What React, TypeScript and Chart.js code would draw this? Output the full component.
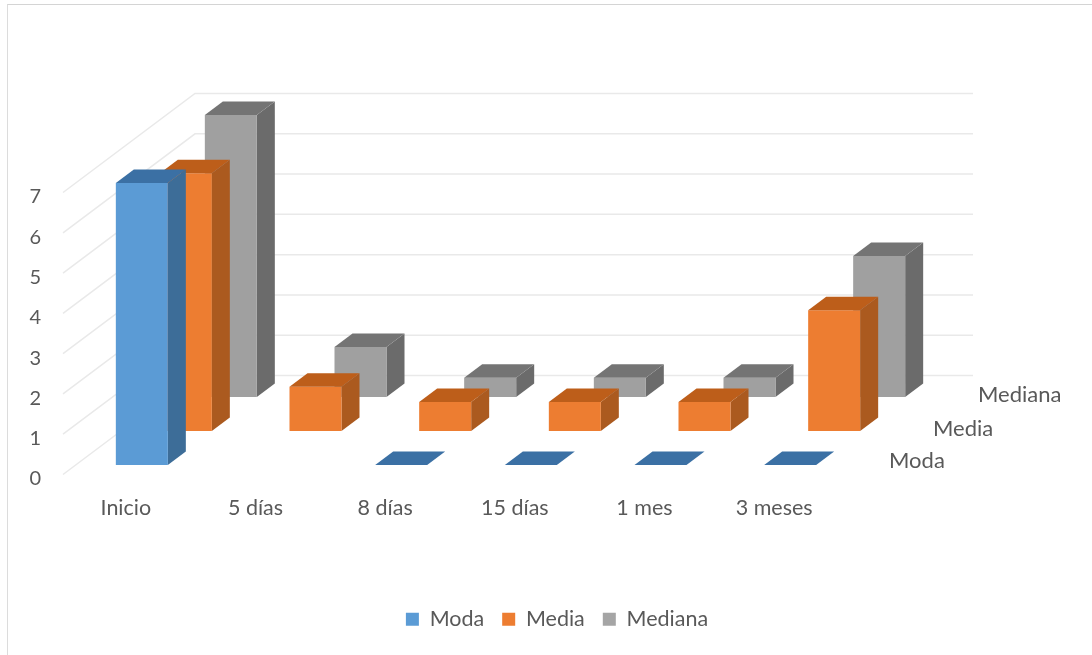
import React, { useEffect, useRef } from "react";
import { Chart, registerables } from "chart.js";

Chart.register(...registerables);

const categories = ["Inicio", "5 días", "8 días", "15 días", "1 mes", "3 meses"];
const moda = [7, null, 0, 0, 0, 0];
const media = [6.4, 1.1, 0.72, 0.72, 0.72, 3];
const mediana = [7, 1.24, 0.48, 0.48, 0.48, 3.5];

const FONT = "Lato";
const TEXT = "#595959";
const WALL = "#e9e9e9";

// Shift of each series along the depth axis, plus the colours of a box's faces.
const faces = [
  { dx: 16, dy: -14, front: "#5b9bd5", side: "#3d6d98", top: "#3b70a4", nameX: 889, nameY: 461 },
  { dx: 60, dy: -48, front: "#ed7d31", side: "#ab5a1f", top: "#bd5e1a", nameX: 933, nameY: 429 },
  { dx: 105, dy: -82, front: "#a0a0a0", side: "#6b6b6b", top: "#747474", nameX: 978, nameY: 395 },
];
const BOX_DX = 18;
const BOX_DY = -13.5;

function poly(ctx: CanvasRenderingContext2D, color: string, pts: number[][]) {
  ctx.fillStyle = color;
  ctx.beginPath();
  pts.forEach(([x, y], i) => (i ? ctx.lineTo(x, y) : ctx.moveTo(x, y)));
  ctx.closePath();
  ctx.fill();
}

const columns3d = {
  id: "columns3d",
  // Side wall and back wall gridlines, taken from the value axis ticks.
  beforeDatasetsDraw(chart: any) {
    const { ctx, scales } = chart;
    const y = scales.y;
    ctx.save();
    ctx.strokeStyle = WALL;
    ctx.lineWidth = 1.5;
    y.ticks.forEach((t: any) => {
      const py = y.getPixelForValue(t.value) - 4.5;
      ctx.beginPath();
      ctx.moveTo(63, py);
      ctx.lineTo(195, py - 99);
      ctx.lineTo(973, py - 99);
      ctx.stroke();
    });
    ctx.restore();

    ctx.save();
    ctx.fillStyle = TEXT;
    ctx.font = `22px ${FONT}`;
    ctx.textBaseline = "middle";
    chart.data.datasets.forEach((d: any, i: number) => {
      ctx.fillText(d.label, faces[i].nameX, faces[i].nameY);
    });
    ctx.restore();
  },
  // Each bar element is redrawn as a box with front, side and top faces.
  beforeDatasetDraw(chart: any, args: any) {
    const { ctx } = chart;
    const f = faces[args.index];
    const values = chart.data.datasets[args.index].data;
    args.meta.data.forEach((bar: any, i: number) => {
      if (values[i] == null) return;
      const l = bar.x - bar.width / 2 + f.dx;
      const r = bar.x + bar.width / 2 + f.dx;
      const t = bar.y + f.dy;
      const b = bar.base + f.dy;
      if (b - t > 0.5) {
        poly(ctx, f.side, [[r, t], [r + BOX_DX, t + BOX_DY], [r + BOX_DX, b + BOX_DY], [r, b]]);
        poly(ctx, f.front, [[l, t], [r, t], [r, b], [l, b]]);
      }
      poly(ctx, f.top, [[l, t], [l + BOX_DX, t + BOX_DY], [r + BOX_DX, t + BOX_DY], [r, t]]);
    });
    return false;
  },
};

export default function App() {
  const ref = useRef<HTMLCanvasElement>(null);
  useEffect(() => {
    const chart = new Chart(ref.current!, {
      type: "bar",
      data: {
        labels: categories,
        datasets: [
          { label: "Moda", data: moda, backgroundColor: "#5b9bd5" },
          { label: "Media", data: media, backgroundColor: "#ed7d31" },
          { label: "Mediana", data: mediana, backgroundColor: "#a5a5a5" },
        ],
      },
      plugins: [columns3d],
      options: {
        responsive: false,
        animation: false,
        events: [],
        grouped: false,
        barThickness: 52,
        layout: { padding: { left: 22, right: 0, top: 197, bottom: 15 } },
        plugins: {
          title: { display: false },
          tooltip: { enabled: false },
          legend: {
            position: "bottom",
            labels: {
              boxWidth: 13,
              boxHeight: 13,
              padding: 18,
              color: TEXT,
              font: { family: FONT, size: 21.5 },
            },
          },
        },
        scales: {
          x: {
            grid: { display: false },
            border: { display: false },
            afterFit: (s: any) => { s.height = 111.5; },
            ticks: {
              color: TEXT,
              padding: 8,
              maxRotation: 0,
              font: { family: FONT, size: 21.5 },
            },
          },
          y: {
            min: 0,
            max: 7,
            grid: { display: false, drawTicks: false },
            border: { display: false },
            afterFit: (s: any) => { s.width = 39; },
            ticks: {
              stepSize: 1,
              color: TEXT,
              padding: 20,
              font: { family: FONT, size: 20 },
            },
          },
          // Reserves the strip on the right that holds the depth axis names.
          depth: {
            position: "right",
            min: 0,
            max: 7,
            grid: { display: false },
            border: { display: false },
            ticks: { display: false },
            afterFit: (s: any) => { s.width = 253; },
          },
        },
      } as any,
    });
    return () => chart.destroy();
  }, []);
  return (
    <div style={{ position: "absolute", left: 0, top: 0, width: 1092, height: 655, background: "#fff" }}>
      <div
        style={{
          position: "absolute",
          left: 7,
          top: 4,
          width: 1085,
          height: 651,
          boxSizing: "border-box",
          borderTop: "1px solid #d4d4d4",
          borderLeft: "1.5px solid #dcdcdc",
        }}
      />
      <canvas ref={ref} width={1092} height={655} style={{ position: "absolute", left: 0, top: 0, display: "block" }} />
    </div>
  );
}
